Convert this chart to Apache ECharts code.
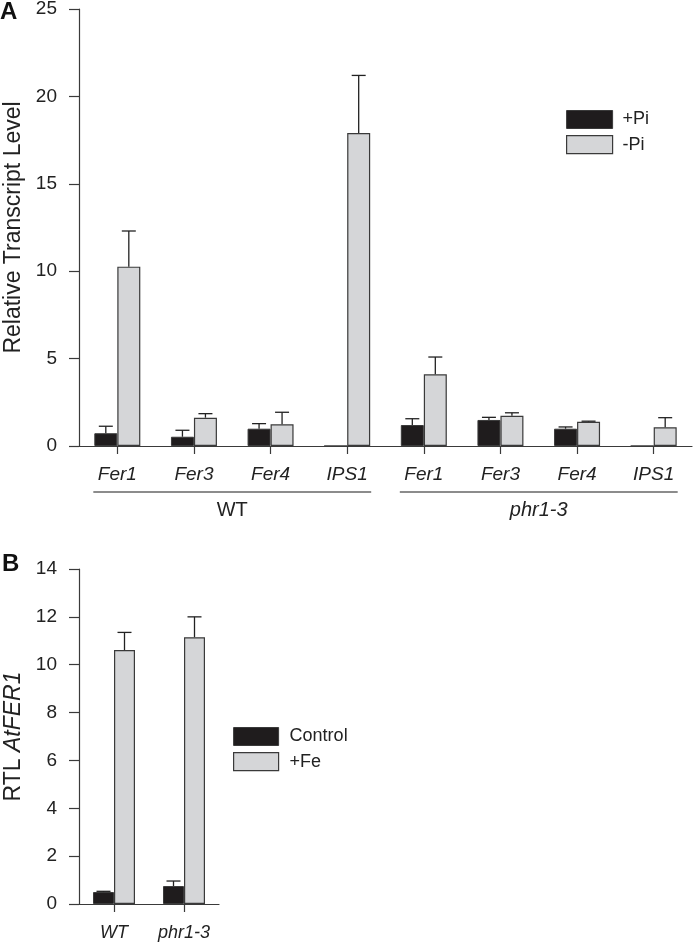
<!DOCTYPE html>
<html>
<head>
<meta charset="utf-8">
<script src="https://cdn.jsdelivr.net/npm/echarts@6/dist/echarts.min.js"></script>
<style>
html,body{margin:0;padding:0;background:#fff;}
#c{width:694px;height:942px;}
</style>
</head>
<body>
<div id="c"></div>
<script>
// ---------- Data (panel A) ----------
const categoriesA = ['Fer1', 'Fer3', 'Fer4', 'IPS1', 'Fer1', 'Fer3', 'Fer4', 'IPS1'];
const groupsA = ['WT', 'phr1-3'];
const groupSizeA = 4;
const plusPi = [0.73, 0.53, 0.99, 0, 1.20, 1.49, 0.99, 0];
const plusPiErr = [0.40, 0.37, 0.29, 0, 0.36, 0.15, 0.10, 0];
const minusPi = [10.26, 1.62, 1.24, 17.9, 4.10, 1.73, 1.39, 1.07];
const minusPiErr = [2.04, 0.23, 0.69, 3.30, 0.99, 0.17, 0.03, 0.55];
const yTicksA = {min: 0, max: 25, interval: 5};

// ---------- Data (panel B) ----------
const categoriesB = ['WT', 'phr1-3'];
const control = [0.50, 0.75];
const controlErr = [0.03, 0.21];
const plusFe = [10.61, 11.15];
const plusFeErr = [0.74, 0.85];
const yTicksB = {min: 0, max: 14, interval: 2};

// ---------- Style ----------
const FONT = "'Liberation Sans', Arial, sans-serif";
const DARK = '#1f1c1d';
const GREY = '#d5d6d8';
const EDGE = '#3a3a3a';
const AXIS = '#3a3a3a';
const TXT = '#222';
const BAR_A = 23, BAR_B = 21;

function errSeries(name, xi, yi, vals, errs, side, barW) {
  const data = vals.map((v, i) => [i, v, errs[i], side]);
  return {
    type: 'custom', name: name, xAxisIndex: xi, yAxisIndex: yi, z: 5,
    encode: {x: 0, y: 1}, data: data, silent: true,
    renderItem: function (params, api) {
      const e = api.value(2);
      if (!e) return null;
      const top = api.coord([api.value(0), api.value(1)]);
      const hi = api.coord([api.value(0), api.value(1) + e]);
      const x = top[0] + api.value(3) * barW / 2;
      return {
        type: 'group',
        children: [
          {type: 'line', shape: {x1: x, y1: top[1], x2: x, y2: hi[1]}, style: {stroke: '#222', lineWidth: 1.3}},
          {type: 'line', shape: {x1: x - 7, y1: hi[1], x2: x + 7, y2: hi[1]}, style: {stroke: '#222', lineWidth: 1.3}}
        ]
      };
    }
  };
}

const axisLineStyle = {show: true, lineStyle: {color: AXIS, width: 1.2}};

const chart = echarts.init(document.getElementById('c'), null, {renderer: 'canvas'});
const option = {
  animation: false,
  textStyle: {fontFamily: FONT},
  title: [
    {text: 'A', left: 0, top: 0, padding: 0, textStyle: {fontSize: 24, fontWeight: 'bold', color: '#111', fontFamily: FONT}},
    {text: 'B', left: 2, top: 552, padding: 0, textStyle: {fontSize: 24, fontWeight: 'bold', color: '#111', fontFamily: FONT}}
  ],
  grid: [
    {left: 79, top: 9, width: 613, height: 437, containLabel: false, outerBoundsMode: 'none'},
    {left: 79, top: 569, width: 140, height: 335, containLabel: false, outerBoundsMode: 'none'}
  ],
  legend: [
    {
      orient: 'vertical', left: 566, top: 110, itemWidth: 46, itemHeight: 18, itemGap: 6,
      icon: 'rect', padding: 0,
      textStyle: {fontSize: 18, color: TXT, fontFamily: FONT, padding: [0, 0, 0, 5]},
      data: [
        {name: '+Pi', itemStyle: {color: DARK, borderColor: EDGE, borderWidth: 1}},
        {name: '-Pi', itemStyle: {color: GREY, borderColor: EDGE, borderWidth: 1.2}}
      ]
    },
    {
      orient: 'vertical', left: 233, top: 727, itemWidth: 45, itemHeight: 18, itemGap: 6,
      icon: 'rect', padding: 0,
      textStyle: {fontSize: 18, color: TXT, fontFamily: FONT, padding: [0, 0, 0, 6]},
      data: [
        {name: 'Control', itemStyle: {color: DARK, borderColor: EDGE, borderWidth: 1}},
        {name: '+Fe', itemStyle: {color: GREY, borderColor: EDGE, borderWidth: 1.2}}
      ]
    }
  ],
  xAxis: [
    {
      type: 'category', gridIndex: 0, data: categoriesA, boundaryGap: true,
      axisLine: axisLineStyle,
      axisTick: {show: true, alignWithLabel: true, length: 8, lineStyle: {color: AXIS, width: 1.2}},
      axisLabel: {interval: 0, fontSize: 19, fontStyle: 'italic', color: TXT, margin: 19, fontFamily: FONT}
    },
    {
      type: 'category', gridIndex: 1, data: categoriesB, boundaryGap: true,
      axisLine: axisLineStyle,
      axisTick: {show: true, alignWithLabel: true, length: 8, lineStyle: {color: AXIS, width: 1.2}},
      axisLabel: {interval: 0, fontSize: 18, fontStyle: 'italic', color: TXT, margin: 20, fontFamily: FONT}
    }
  ],
  yAxis: [
    {
      type: 'value', gridIndex: 0, min: yTicksA.min, max: yTicksA.max, interval: yTicksA.interval,
      splitLine: {show: false}, axisLine: axisLineStyle,
      axisTick: {show: true, length: 10, lineStyle: {color: AXIS, width: 1.2}},
      axisLabel: {fontSize: 19, color: TXT, margin: 22, fontFamily: FONT},
      name: 'Relative Transcript Level', nameLocation: 'middle', nameRotate: 90, nameGap: 54,
      nameTextStyle: {fontSize: 23, color: TXT, fontFamily: FONT}
    },
    {
      type: 'value', gridIndex: 1, min: yTicksB.min, max: yTicksB.max, interval: yTicksB.interval,
      splitLine: {show: false}, axisLine: axisLineStyle,
      axisTick: {show: true, length: 10, lineStyle: {color: AXIS, width: 1.2}},
      axisLabel: {fontSize: 19, color: TXT, margin: 22, fontFamily: FONT},
      name: '{n|RTL }{i|AtFER1}', nameLocation: 'middle', nameRotate: 90, nameGap: 54,
      nameTextStyle: {
        fontSize: 23, color: TXT, fontFamily: FONT,
        rich: {
          n: {fontSize: 23, color: TXT, fontFamily: FONT},
          i: {fontSize: 23, color: TXT, fontFamily: FONT, fontStyle: 'italic'}
        }
      }
    }
  ],
  series: [
    {type: 'bar', name: '+Pi', xAxisIndex: 0, yAxisIndex: 0, data: plusPi, barWidth: BAR_A, barGap: '0%',
      itemStyle: {color: DARK, borderColor: EDGE, borderWidth: 1}},
    {type: 'bar', name: '-Pi', xAxisIndex: 0, yAxisIndex: 0, data: minusPi, barWidth: BAR_A, barGap: '0%',
      itemStyle: {color: GREY, borderColor: EDGE, borderWidth: 1.2}},
    errSeries('errPlusPi', 0, 0, plusPi, plusPiErr, -1, BAR_A),
    errSeries('errMinusPi', 0, 0, minusPi, minusPiErr, 1, BAR_A),
    {type: 'bar', name: 'Control', xAxisIndex: 1, yAxisIndex: 1, data: control, barWidth: BAR_B, barGap: '0%',
      itemStyle: {color: DARK, borderColor: EDGE, borderWidth: 1}},
    {type: 'bar', name: '+Fe', xAxisIndex: 1, yAxisIndex: 1, data: plusFe, barWidth: BAR_B, barGap: '0%',
      itemStyle: {color: GREY, borderColor: EDGE, borderWidth: 1.2}},
    errSeries('errControl', 1, 1, control, controlErr, -1, BAR_B),
    errSeries('errFe', 1, 1, plusFe, plusFeErr, 1, BAR_B)
  ]
};
chart.setOption(option);

// Group brackets under panel A, positioned from the category axis scale
const graphics = [];
groupsA.forEach(function (g, gi) {
  const first = gi * groupSizeA, last = first + groupSizeA - 1;
  const x1 = chart.convertToPixel({xAxisIndex: 0}, first) - 24;
  const x2 = chart.convertToPixel({xAxisIndex: 0}, last) + 24;
  const lineY = 492;
  graphics.push({type: 'line', shape: {x1: x1, y1: lineY, x2: x2, y2: lineY}, style: {stroke: '#666', lineWidth: 1.3}, silent: true});
  graphics.push({
    type: 'text', x: (x1 + x2) / 2, y: lineY + 18,
    style: {text: g, fontSize: 20, fontFamily: FONT, fill: TXT, fontStyle: gi === 1 ? 'italic' : 'normal', align: 'center', verticalAlign: 'middle'},
    silent: true
  });
});
chart.setOption({graphic: graphics});
</script>
</body>
</html>
